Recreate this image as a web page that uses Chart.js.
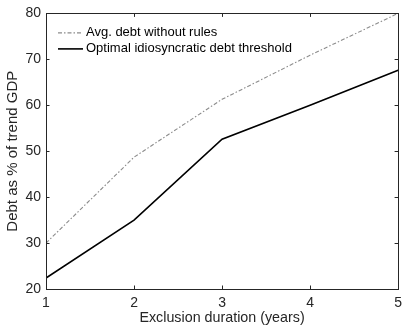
<!DOCTYPE html>
<html>
<head>
<meta charset="utf-8">
<script src="https://cdn.jsdelivr.net/npm/chart.js@4/dist/chart.umd.min.js"></script>
<style>
  html, body { margin: 0; padding: 0; background: #fff; }
  canvas { display: block; }
</style>
</head>
<body>
<canvas id="c" width="408" height="331"></canvas>
<script>
// Exclusion duration in years
const durations = [1, 2, 3, 4, 5];
// Average debt when no fiscal rule is imposed (% of trend GDP)
const avgDebtNoRules = [30, 48.7, 61.3, 70.9, 80];
// Optimal idiosyncratic debt threshold (% of trend GDP)
const optimalThreshold = [22.4, 35, 52.6, 60, 67.6];
const yTicks = [20, 30, 40, 50, 60, 70, 80];
const seriesLabels = ['Avg. debt without rules', 'Optimal idiosyncratic debt threshold'];

const FONT = "'Liberation Sans', Arial, Helvetica, sans-serif";
const INK = '#262626';

function points(ys) {
  return durations.map((x, i) => ({ x: x, y: ys[i] }));
}

// MATLAB-style frame: full box with inward tick marks on all four sides
const boxTicks = {
  id: 'boxTicks',
  afterDatasetsDraw(chart) {
    const { ctx, chartArea: a, scales } = chart;
    const len = 3.5;
    ctx.save();
    ctx.strokeStyle = INK;
    ctx.lineWidth = 1;
    ctx.beginPath();
    scales.x.ticks.forEach(t => {
      const px = Math.round(scales.x.getPixelForValue(t.value)) + 0.5;
      ctx.moveTo(px, a.bottom); ctx.lineTo(px, a.bottom - len);
      ctx.moveTo(px, a.top); ctx.lineTo(px, a.top + len);
    });
    scales.y.ticks.forEach(t => {
      const py = Math.round(scales.y.getPixelForValue(t.value)) + 0.5;
      ctx.moveTo(a.left, py); ctx.lineTo(a.left + len, py);
      ctx.moveTo(a.right, py); ctx.lineTo(a.right - len, py);
    });
    ctx.stroke();
    ctx.strokeRect(Math.round(a.left) + 0.5, Math.round(a.top) + 0.5,
                   Math.round(a.right - a.left), Math.round(a.bottom - a.top));
    ctx.restore();
  }
};

// Legend in the upper-left corner of the plot, without a frame
const innerLegend = {
  id: 'innerLegend',
  afterDraw(chart) {
    const { ctx, chartArea: a } = chart;
    const x0 = a.left + 12, x1 = a.left + 37, tx = a.left + 40;
    const rows = [a.top + 19, a.top + 35];
    ctx.save();
    ctx.font = '13px ' + FONT;
    ctx.textBaseline = 'middle';
    ctx.textAlign = 'left';
    chart.data.datasets.forEach((ds, i) => {
      const y = rows[i] + 0.5;
      ctx.strokeStyle = ds.borderColor;
      ctx.lineWidth = ds.borderWidth;
      ctx.setLineDash(ds.borderDash || []);
      ctx.beginPath();
      ctx.moveTo(x0, y); ctx.lineTo(x1, y);
      ctx.stroke();
      ctx.setLineDash([]);
      ctx.fillStyle = '#000';
      ctx.fillText(ds.label, tx, rows[i]);
    });
    ctx.restore();
  }
};

new Chart(document.getElementById('c'), {
  type: 'line',
  data: {
    datasets: [
      {
        label: seriesLabels[0],
        data: points(avgDebtNoRules),
        borderColor: 'rgb(140,140,140)',
        borderWidth: 1.1,
        borderDash: [4, 2, 1.5, 2],
        pointRadius: 0,
        tension: 0,
        fill: false
      },
      {
        label: seriesLabels[1],
        data: points(optimalThreshold),
        borderColor: '#000',
        borderWidth: 1.6,
        pointRadius: 0,
        tension: 0,
        fill: false
      }
    ]
  },
  options: {
    responsive: false,
    animation: false,
    layout: { padding: { top: 13, right: 6, left: 0, bottom: 0 } },
    plugins: {
      legend: { display: false },
      tooltip: { enabled: false }
    },
    scales: {
      x: {
        type: 'linear',
        min: 1,
        max: 5,
        afterFit(s) { s.height = 42; },
        afterBuildTicks(s) { s.ticks = durations.map(v => ({ value: v })); },
        grid: { display: false, drawTicks: false },
        border: { display: false },
        ticks: { color: INK, padding: 6, font: { family: FONT, size: 14 }, maxRotation: 0 },
        title: {
          display: true,
          text: 'Exclusion duration (years)',
          color: INK,
          font: { family: FONT, size: 14.3 },
          padding: { top: 0, bottom: 4 }
        }
      },
      y: {
        min: 20,
        max: 80,
        afterFit(s) { s.width = 46; },
        afterBuildTicks(s) { s.ticks = yTicks.map(v => ({ value: v })); },
        grid: { display: false, drawTicks: false },
        border: { display: false },
        ticks: { color: INK, padding: 5, font: { family: FONT, size: 14 } },
        title: {
          display: true,
          text: 'Debt as % of trend GDP',
          color: INK,
          font: { family: FONT, size: 15 },
          padding: { top: 4, bottom: 0 }
        }
      }
    }
  },
  plugins: [boxTicks, innerLegend]
});
</script>
</body>
</html>
